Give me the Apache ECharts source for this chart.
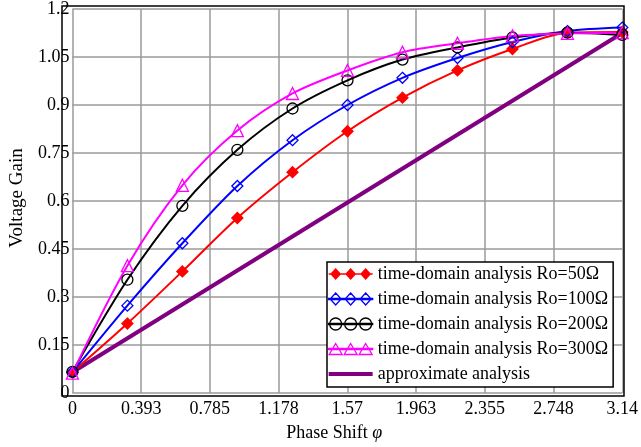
<!DOCTYPE html>
<html><head><meta charset="utf-8">
<script src="https://cdn.jsdelivr.net/npm/echarts@6/dist/echarts.min.js"></script>
<style>html,body{margin:0;padding:0;background:#fff}#c{width:641px;height:447px}</style>
</head><body><div id="c"></div>
<script>
const xTicks = [0, 0.393, 0.785, 1.178, 1.57, 1.963, 2.355, 2.748, 3.14];
const yTicks = [0, 0.15, 0.3, 0.45, 0.6, 0.75, 0.9, 1.05, 1.2];
const phase = [0, 0.314, 0.628, 0.942, 1.257, 1.571, 1.885, 2.199, 2.513, 2.827, 3.14];
const ro50  = [0.065, 0.217, 0.38, 0.547, 0.69, 0.818, 0.923, 1.008, 1.075, 1.126, 1.128];
const ro100 = [0.065, 0.273, 0.468, 0.647, 0.79, 0.9, 0.985, 1.047, 1.097, 1.131, 1.142];
const ro200 = [0.066, 0.354, 0.585, 0.76, 0.889, 0.977, 1.042, 1.08, 1.111, 1.126, 1.119];
const ro300 = [0.062, 0.398, 0.649, 0.82, 0.936, 1.008, 1.065, 1.093, 1.116, 1.124, 1.126];
const approxX = [0, 3.14];
const approxY = [0.065, 1.125];
const names = ['time-domain analysis Ro=50Ω','time-domain analysis Ro=100Ω','time-domain analysis Ro=200Ω','time-domain analysis Ro=300Ω','approximate analysis'];

const pair = (xs, ys) => xs.map((x, i) => [x, ys[i]]);
const font = '"Liberation Serif", "Times New Roman", serif';

// legend icons: a line with three markers (44 x 12 box)
const cxs = [7, 22, 37];
const lineRect = 'M0 5.3 L44 5.3 L44 6.7 L0 6.7 Z ';
const diamondP = 'path://' + lineRect + cxs.map(c => `M${c} 0 L${c + 5.5} 6 L${c} 12 L${c - 5.5} 6 Z`).join(' ');
const circleP = 'path://' + lineRect + cxs.map(c => `M${c + 6} 6 A6 6 0 1 1 ${c - 6} 6 A6 6 0 1 1 ${c + 6} 6 Z`).join(' ');
const triP = 'path://' + lineRect + cxs.map(c => `M${c} 0.5 L${c + 6.5} 11.5 L${c - 6.5} 11.5 Z`).join(' ');
const barP = 'path://M0 0 L44 0 L44 4 L0 4 Z';

const chart = echarts.init(document.getElementById('c'));
function ser(name, data, color, symbol, filled, size) {
  return {
    name, type: 'line', data, smooth: 0.3, symbol, symbolSize: size,
    lineStyle: {color, width: 2}, itemStyle: {color: filled ? color : 'rgba(255,255,255,0)', borderColor: color, borderWidth: 1.3},
    color, z: 3
  };
}
function leg(name, icon, color, filled) {
  return {name, icon, itemStyle: {color: filled ? color : 'rgba(255,255,255,0)', borderColor: color, borderWidth: filled ? 0 : 1.3}};
}
chart.setOption({
  animation: false,
  textStyle: {fontFamily: font},
  grid: {left: 62, top: 6, width: 562, height: 390, show: false},
  xAxis: {
    type: 'value', min: 0, max: 3.14, interval: 3.14 / 8,
    axisLine: {show: false}, axisTick: {show: false},
    splitLine: {show: true, lineStyle: {color: '#9a9a9a', width: 1.5}},
    axisLabel: {color: '#000', fontSize: 18, fontFamily: font, margin: 7,
      formatter: (v) => { const i = Math.round(v / (3.14 / 8)); return String(xTicks[i]); }},
    name: 'Phase Shift {i|φ}', nameLocation: 'middle', nameGap: 31,
    nameTextStyle: {color: '#000', fontSize: 18, fontFamily: font, padding: [0, 26, 0, 0],
      rich: {i: {fontStyle: 'italic', fontSize: 18, fontFamily: font, color: '#000'}}}
  },
  yAxis: {
    type: 'value', min: 0, max: 1.2, interval: 0.15,
    axisLine: {show: false}, axisTick: {show: false},
    splitLine: {show: true, lineStyle: {color: '#9a9a9a', width: 1.5}},
    axisLabel: {color: '#000', fontSize: 18, fontFamily: font, margin: 3, padding: [6, 0, 0, 0],
      formatter: (v) => { const i = Math.round(v / 0.15); return String(yTicks[i]); }},
    name: 'Voltage Gain', nameLocation: 'middle', nameGap: 42,
    nameTextStyle: {color: '#000', fontSize: 19, fontFamily: font, padding: [0, 0, 0, 6]}
  },
  graphic: [{type: 'rect', shape: {x: 62, y: 6, width: 562, height: 390}, style: {fill: 'none', stroke: '#000', lineWidth: 1.5}, z: 10}],
  legend: {
    orient: 'vertical', left: 327, top: 262,
    backgroundColor: '#fff', borderColor: '#000', borderWidth: 1.5,
    padding: [2, 5, 3, 1], itemGap: 5, itemWidth: 44, itemHeight: 12,
    textStyle: {color: '#000', fontSize: 18, fontFamily: font, lineHeight: 20},
    data: [
      leg(names[0], diamondP, '#ff0000', true),
      leg(names[1], diamondP, '#0000ff', false),
      leg(names[2], circleP, '#000000', false),
      leg(names[3], triP, '#ff00ff', false),
      leg(names[4], barP, '#800080', true)
    ]
  },
  series: [
    {name: names[4], type: 'line', data: pair(approxX, approxY), symbol: 'none', lineStyle: {color: '#800080', width: 4}, color: '#800080', z: 2},
    ser(names[0], pair(phase, ro50), '#ff0000', 'diamond', true, 11),
    ser(names[1], pair(phase, ro100), '#0000ff', 'diamond', false, 11),
    ser(names[2], pair(phase, ro200), '#000000', 'circle', false, 11),
    ser(names[3], pair(phase, ro300), '#ff00ff', 'triangle', false, 12)
  ]
});
</script></body></html>
